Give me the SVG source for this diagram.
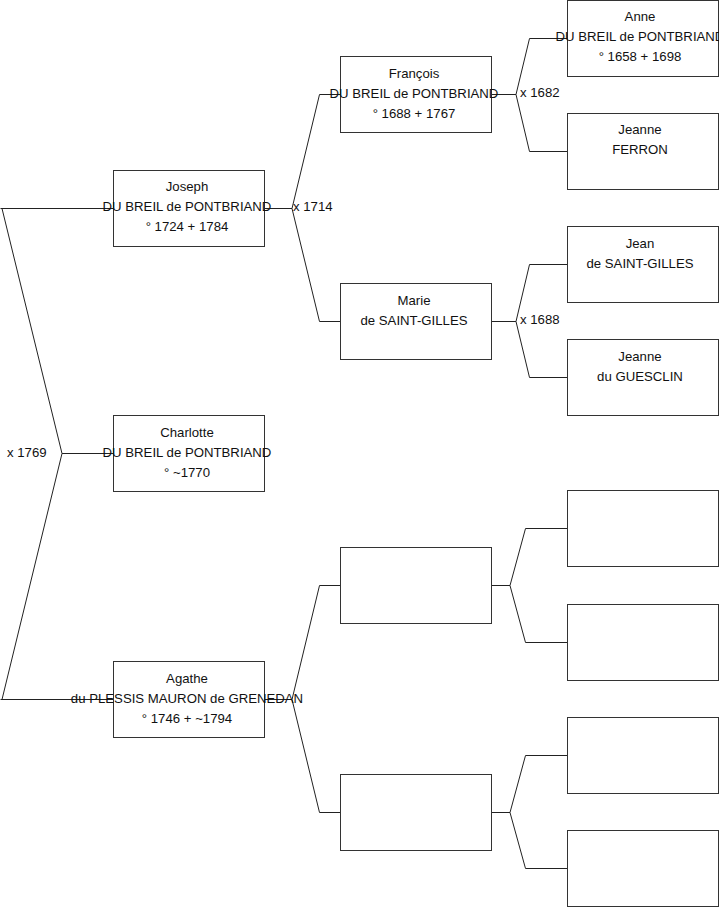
<svg xmlns="http://www.w3.org/2000/svg" width="719" height="908" viewBox="0 0 719 908">
<style>
.box{fill:#fff;stroke:#333;stroke-width:1}
.c{fill:none;stroke:#222;stroke-width:1}
text{font-family:"Liberation Sans",Arial,sans-serif;font-size:13.2px;fill:#111}
.t{text-anchor:middle}
</style>
<rect width="719" height="908" fill="#fff"/>
<g id="connectors">
<path class="c" d="M113.5,208.5 H0.5 M2,208.5 L62,453.5 L2,699.5 M0.5,699.5 H113.5 M62,453.5 H113.5"/>
<path class="c" d="M264.5,208.5 H292 L319.5,94.5 H340.5 M292,208.5 L319.5,321.5 H340.5"/>
<path class="c" d="M264.5,699.5 H292 L319.5,585.5 H340.5 M292,699.5 L319.5,812.5 H340.5"/>
<path class="c" d="M491.5,94.5 H516 L529.5,38.5 H567.5 M516,94.5 L529.5,151.5 H567.5"/>
<path class="c" d="M491.5,321.5 H516 L529.5,264.5 H567.5 M516,321.5 L529.5,377.5 H567.5"/>
<path class="c" d="M491.5,585.5 H510 L525.5,528.5 H567.5 M510,585.5 L525.5,642.5 H567.5"/>
<path class="c" d="M491.5,812.5 H510 L525.5,755.5 H567.5 M510,812.5 L525.5,868.5 H567.5"/>
<text x="7" y="457">x 1769</text>
<text x="293" y="211">x 1714</text>
<text x="520" y="97">x 1682</text>
<text x="520" y="324">x 1688</text>
</g>
<g id="joseph">
<rect class="box" x="113.5" y="170.5" width="151" height="76"/>
<text class="t" x="187" y="191">Joseph</text>
<text class="t" x="187" y="211">DU BREIL de PONTBRIAND</text>
<text class="t" x="187" y="231">° 1724 + 1784</text>
</g>
<g id="charlotte">
<rect class="box" x="113.5" y="415.5" width="151" height="76"/>
<text class="t" x="187" y="437">Charlotte</text>
<text class="t" x="187" y="457">DU BREIL de PONTBRIAND</text>
<text class="t" x="187" y="477">° ~1770</text>
</g>
<g id="agathe">
<rect class="box" x="113.5" y="661.5" width="151" height="76"/>
<text class="t" x="187" y="683">Agathe</text>
<text class="t" x="187" y="703">du PLESSIS MAURON de GRENEDAN</text>
<text class="t" x="187" y="723">° 1746 + ~1794</text>
</g>
<g id="francois">
<rect class="box" x="340.5" y="56.5" width="151" height="76"/>
<text class="t" x="414" y="78">François</text>
<text class="t" x="414" y="98">DU BREIL de PONTBRIAND</text>
<text class="t" x="414" y="118">° 1688 + 1767</text>
</g>
<g id="marie">
<rect class="box" x="340.5" y="283.5" width="151" height="76"/>
<text class="t" x="414" y="305">Marie</text>
<text class="t" x="414" y="325">de SAINT-GILLES</text>
</g>
<g id="blank1">
<rect class="box" x="340.5" y="547.5" width="151" height="76"/>
</g>
<g id="blank2">
<rect class="box" x="340.5" y="774.5" width="151" height="76"/>
</g>
<g id="anne">
<rect class="box" x="567.5" y="0.5" width="151" height="76"/>
<text class="t" x="640" y="21">Anne</text>
<text class="t" x="640" y="41">DU BREIL de PONTBRIAND</text>
<text class="t" x="640" y="61">° 1658 + 1698</text>
</g>
<g id="jeanne-ferron">
<rect class="box" x="567.5" y="113.5" width="151" height="76"/>
<text class="t" x="640" y="134">Jeanne</text>
<text class="t" x="640" y="154">FERRON</text>
</g>
<g id="jean">
<rect class="box" x="567.5" y="226.5" width="151" height="76"/>
<text class="t" x="640" y="248">Jean</text>
<text class="t" x="640" y="268">de SAINT-GILLES</text>
</g>
<g id="jeanne-guesclin">
<rect class="box" x="567.5" y="339.5" width="151" height="76"/>
<text class="t" x="640" y="361">Jeanne</text>
<text class="t" x="640" y="381">du GUESCLIN</text>
</g>
<g id="blank3"><rect class="box" x="567.5" y="490.5" width="151" height="76"/></g>
<g id="blank4"><rect class="box" x="567.5" y="604.5" width="151" height="76"/></g>
<g id="blank5"><rect class="box" x="567.5" y="717.5" width="151" height="76"/></g>
<g id="blank6"><rect class="box" x="567.5" y="830.5" width="151" height="76"/></g>
</svg>
